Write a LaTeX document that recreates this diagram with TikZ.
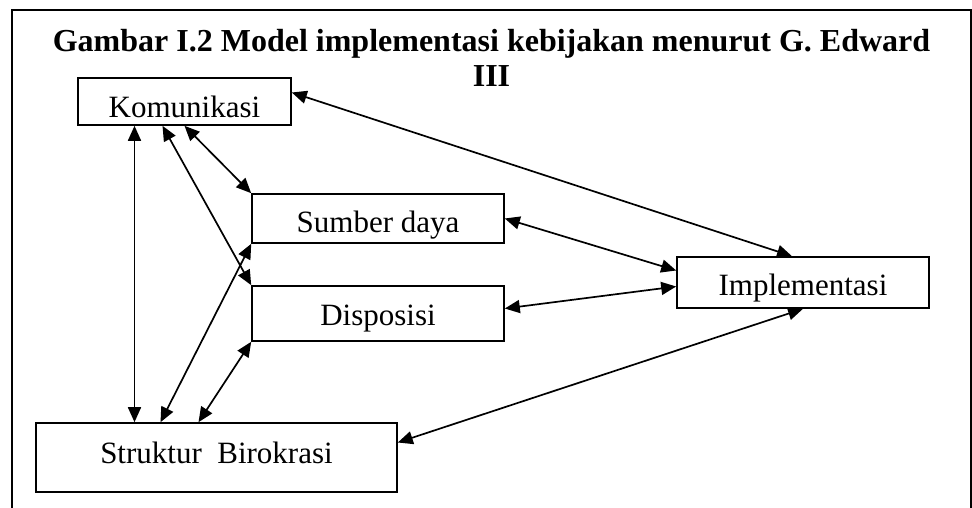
\documentclass[tikz,border=0pt]{standalone}
\usepackage{fontspec}
\setmainfont{Liberation Serif}
\usepackage{tikz}
\usetikzlibrary{arrows.meta,positioning,calc}

\begin{document}
\begin{tikzpicture}[x=1pt, y=-1pt, >={Triangle[length=15pt,width=13pt]},
  kotak/.style={draw, line width=1.6pt, inner sep=0pt, text depth=0pt, font=\fontsize{31}{34}\selectfont},
  panah/.style={<->, line width=1.7pt}]
\useasboundingbox (0,0) rectangle (972,508);
\draw[line width=1.7pt] (12,508) -- (12,10) -- (971,10) -- (971,508);

\node[anchor=base, align=center, font=\fontsize{32}{35}\selectfont\bfseries] (judul) at (491.5,87) {Gambar I.2 Model implementasi kebijakan menurut G. Edward\\III};

\node[kotak, minimum width=213pt, minimum height=47pt, text height=33pt] (kom) at (184.5,101.5) {Komunikasi};
\node[kotak, minimum width=252pt, minimum height=49pt, text height=28pt] (sdm) at (378,218.5) {Sumber daya};
\node[kotak, minimum width=252pt, minimum height=55pt, text height=23pt] (dis) at (378,313.5) {Disposisi};
\node[kotak, minimum width=252pt, minimum height=51pt, text height=26pt] (imp) at (803,282.5) {Implementasi};
\node[kotak, minimum width=361pt, minimum height=69pt, text height=11pt] (str) at (216.5,457.5) {Struktur\ \ Birokrasi};

\draw[panah] ([xshift=-50pt]kom.south) -- ([xshift=-50pt]kom.south |- str.north);
\draw[panah] ([xshift=-22pt]kom.south) -- (dis.north west);
\draw[panah] (kom.south) -- (sdm.north west);
\draw[panah] ([xshift=-56pt]str.north) -- (sdm.south west);
\draw[panah] ([xshift=-18pt]str.north) -- (dis.south west);
\draw[panah] ([yshift=9pt]kom.east) -- ([xshift=-11pt]imp.north);
\draw[panah] (sdm.east) -- ([yshift=12pt]imp.west);
\draw[panah] ([yshift=5pt]dis.east) -- ([yshift=-4pt]imp.west);
\draw[panah] ([yshift=15pt]str.east) -- (imp.south);
\end{tikzpicture}
\end{document}
